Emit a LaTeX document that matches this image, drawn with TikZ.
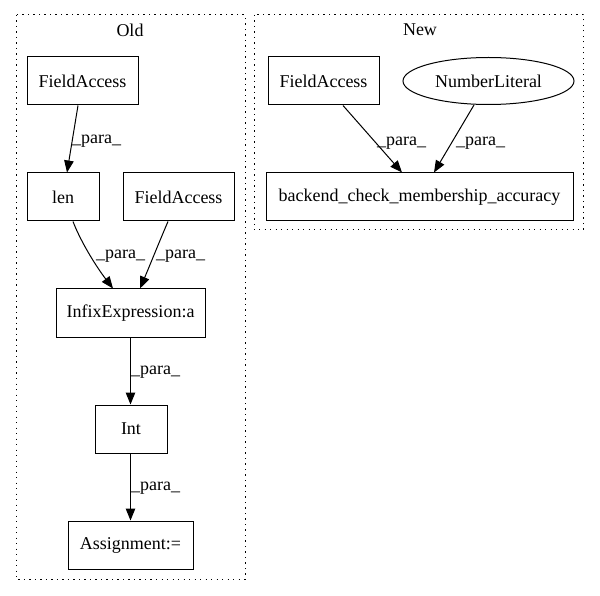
\documentclass[tikz,border=0pt]{standalone}
\usepackage{fontspec}
\setmainfont{Liberation Serif}
\usetikzlibrary{arrows.meta,shapes.geometric}
\begin{document}
\begin{tikzpicture}[x=1pt,y=-1pt,
  box/.style={draw,line width=1pt,rectangle,inner sep=0pt,font=\fontsize{18}{20}\selectfont},
  oval/.style={draw,line width=1pt,ellipse,inner sep=0pt,font=\fontsize{18}{20}\selectfont},
  cluster/.style={draw,line width=1pt,dash pattern=on 1.2pt off 4.3pt},
  edge/.style={line width=1pt,-{Triangle[length=12pt,width=9.5pt]}},
  lbl/.style={font=\fontsize{18}{20}\selectfont,inner sep=0pt,anchor=west},
  ttl/.style={font=\fontsize{18}{20}\selectfont,inner sep=0pt}]
\useasboundingbox (0,0) rectangle (600,596);
% clusters
\draw[cluster] (16,15) rectangle (245,579);
\node[ttl] (old) at (130,30) {Old};
\draw[cluster] (254,15) rectangle (583,230);
\node[ttl] (new) at (420,30) {New};
% Old nodes
\node[box,minimum width=111pt,minimum height=48pt] (fa1) at (82.5,81) {FieldAccess};
\node[box,minimum width=72pt,minimum height=48pt] (len) at (63,197) {len};
\node[box,minimum width=111pt,minimum height=48pt] (fa2) at (178.5,197) {FieldAccess};
\node[box,minimum width=149pt,minimum height=48pt] (infix) at (130.5,313) {InfixExpression:a};
\node[box,minimum width=72pt,minimum height=48pt] (int) at (131,429) {Int};
\node[box,minimum width=125pt,minimum height=48pt] (asg) at (130.5,545) {Assignment:=};
% New nodes
\node[box,minimum width=111pt,minimum height=48pt] (fa3) at (323.5,81) {FieldAccess};
\node[oval,minimum width=171pt,minimum height=47pt] (num) at (488.5,81) {NumberLiteral};
\node[box,minimum width=307pt,minimum height=48pt] (bcm) at (419.5,197) {backend\_check\_membership\_accuracy};
% edges
\draw[edge] (fa1.south -| 78,0) -- (len.north -| 67,0);
\node[lbl] (l1) at (72,141) {\_para\_};
\draw[edge] (len.south -| 73,0) .. controls (80,240) and (95,265) .. (infix.north -| 113,0);
\node[lbl] (l2) at (96,256) {\_para\_};
\draw[edge] (fa2.south -| 168,0) .. controls (160,240) and (150,265) .. (infix.north -| 140,0);
\node[lbl] (l3) at (156,256) {\_para\_};
\draw[edge] (infix.south -| 130.5,0) -- (int.north -| 130.5,0);
\node[lbl] (l4) at (131,372) {\_para\_};
\draw[edge] (int.south -| 130.5,0) -- (asg.north -| 130.5,0);
\node[lbl] (l5) at (131,488) {\_para\_};
\draw[edge] (fa3.south -| 343,0) -- (bcm.north -| 402,0);
\node[lbl] (l6) at (377,143) {\_para\_};
\draw[edge] (num.south -| 474,0) -- (bcm.north -| 434,0);
\node[lbl] (l7) at (456,143) {\_para\_};
\end{tikzpicture}
\end{document}
